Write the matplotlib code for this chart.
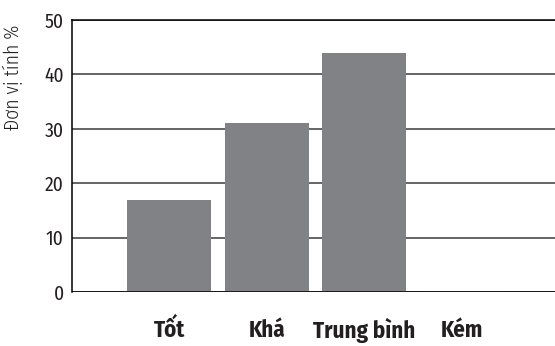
import matplotlib
matplotlib.use('Agg')
import matplotlib.pyplot as plt
import numpy as np

categories = ['Tốt', 'Khá', 'Trung bình', 'Kém']
values = [17, 31, 44, 0.2]
y_ticks = [0, 10, 20, 30, 40, 50]
y_label = 'Đơn vị tính %'

plt.rcParams['font.family'] = ['Fira Sans Condensed', 'DejaVu Sans']

fig = plt.figure(figsize=(5.55, 3.46), dpi=100)
ax = fig.add_axes([72/555, 1 - 292/346, 483/555, 272/346])

x = np.arange(len(categories))
ax.bar(x, values, width=0.86, color='#818286', zorder=3)

ax.set_ylim(0, 50)
ax.set_xlim(-0.993, 3.95)
ax.set_yticks(y_ticks)
ax.yaxis.grid(True, color='#3a3a3a', linewidth=1.1, zorder=1)
ax.set_axisbelow(True)

for s in ['right', 'bottom']:
    ax.spines[s].set_visible(False)
ax.spines['left'].set_color('black')
ax.spines['top'].set_color('black')
ax.spines['left'].set_linewidth(1.1)
ax.spines['top'].set_linewidth(1.1)
ax.axhline(0, color='black', linewidth=1.1, zorder=4)

ax.tick_params(axis='y', length=0, pad=6, labelsize=14, labelcolor='#231f20')
ax.tick_params(axis='x', length=0, pad=19, labelsize=16.5, labelcolor='#231f20')
ax.set_xticks(x)
ax.set_xticklabels(categories, fontweight='bold')

ax.set_ylabel(y_label, fontsize=14, color='#231f20', fontweight=300)
ax.yaxis.set_label_coords(-0.101, 0.79)

fig.savefig('out.png', dpi=100)
